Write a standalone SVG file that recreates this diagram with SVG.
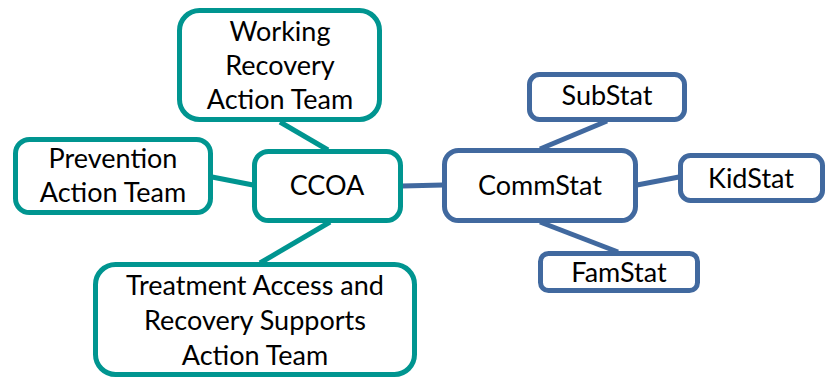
<svg xmlns="http://www.w3.org/2000/svg" width="833" height="383" viewBox="0 0 833 383">
<style>
.t rect{fill:#fff;stroke:#009590;stroke-width:5}
.b rect{fill:#fff;stroke:#41699f;stroke-width:5}
text{font-family:Lato,"Liberation Sans",sans-serif;font-size:27px;fill:#000;text-anchor:middle}
.ct{stroke:#009590;stroke-width:5;fill:none}
.cb{stroke:#41699f;stroke-width:5;fill:none}
</style>
<rect width="833" height="383" fill="#fff"/>
<g id="connectors">
<line class="ct" x1="280" y1="122" x2="328" y2="150"/>
<line class="ct" x1="212" y1="177" x2="253" y2="185"/>
<line class="ct" x1="330" y1="222" x2="260" y2="263"/>
<line class="cb" x1="402" y1="186" x2="443" y2="185"/>
<line class="cb" x1="607" y1="121" x2="540" y2="149"/>
<line class="cb" x1="637" y1="185" x2="679" y2="177"/>
<line class="cb" x1="540" y1="222" x2="618" y2="252"/>
</g>
<g id="working" class="t">
<rect x="179.5" y="10.5" width="200" height="109" rx="20"/>
<text x="280" y="41">Working</text>
<text x="280" y="75">Recovery</text>
<text x="280" y="109">Action Team</text>
</g>
<g id="prevention" class="t">
<rect x="15.5" y="139.5" width="195" height="73" rx="14"/>
<text x="113" y="168">Prevention</text>
<text x="113" y="202">Action Team</text>
</g>
<g id="ccoa" class="t">
<rect x="254.5" y="151.5" width="146" height="69" rx="14"/>
<text x="327" y="195">CCOA</text>
</g>
<g id="treatment" class="t">
<rect x="95.5" y="264.5" width="319" height="110" rx="20"/>
<text x="255" y="295">Treatment Access and</text>
<text x="255" y="330">Recovery Supports</text>
<text x="255" y="365">Action Team</text>
</g>
<g id="commstat" class="b">
<rect x="444.5" y="150.5" width="191" height="70" rx="14"/>
<text x="540" y="195">CommStat</text>
</g>
<g id="substat" class="b">
<rect x="529.5" y="74.5" width="155" height="45" rx="10"/>
<text x="607" y="105">SubStat</text>
</g>
<g id="kidstat" class="b">
<rect x="680.5" y="155.5" width="142" height="45" rx="10"/>
<text x="751" y="188">KidStat</text>
</g>
<g id="famstat" class="b">
<rect x="540.5" y="253.5" width="157" height="37" rx="8"/>
<text x="619" y="282">FamStat</text>
</g>
</svg>
